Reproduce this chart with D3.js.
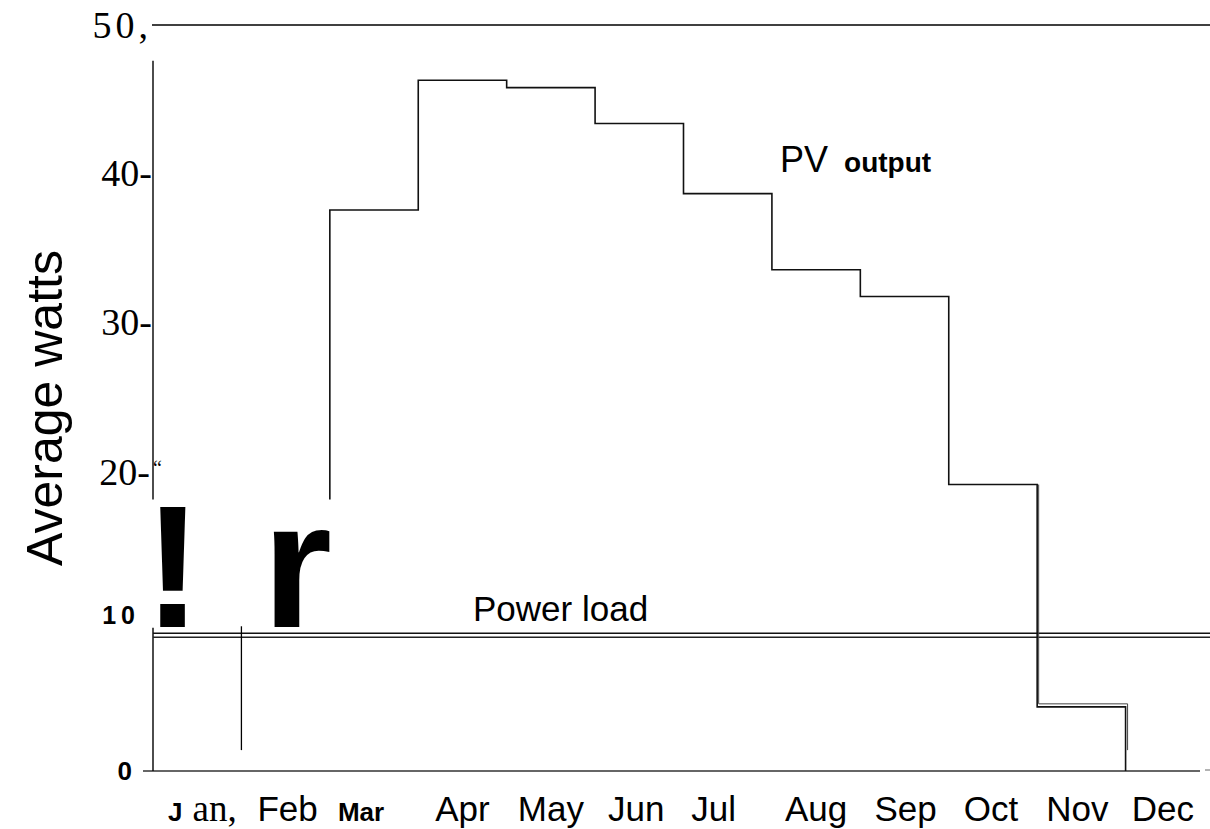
<!DOCTYPE html>
<html>
<head>
<meta charset="utf-8">
<script src="https://cdn.jsdelivr.net/npm/d3@7"></script>
<style>
  html, body { margin: 0; padding: 0; background: #fff; }
  svg { display: block; }
</style>
</head>
<body>
<svg id="chart" width="1210" height="829"></svg>
<script>
// ---- data ----
const months = ["Jan","Feb","Mar","Apr","May","Jun","Jul","Aug","Sep","Oct","Nov","Dec"];
const monthLabels = ["J an,", "Feb", "Mar", "Apr", "May", "Jun", "Jul", "Aug", "Sep", "Oct", "Nov", "Dec"];
// PV output (average watts) per month; Jan not readable, Feb only as start of the March rise
const pvOutput = [null, 18.2, 37.6, 46.3, 45.8, 43.4, 38.7, 33.6, 31.8, 19.2, 4.3, 0];
// Power load (average watts) per month
const powerLoad = [9.1, 9.1, 9.1, 9.1, 9.1, 9.1, 9.1, 9.1, 9.1, 9.1, 9.1, 9.1];
const yTickValues = [0, 10, 20, 30, 40, 50];
const yTickLabels = ["0", "1 0", "20-", "30-", "40-", "50,"];

// ---- layout ----
const svg = d3.select("#chart");
const x = d3.scaleLinear().domain([0, 12]).range([153, 1214]);
const y = d3.scaleLinear().domain([0, 50]).range([771, 25]);
const SANS = "'Liberation Sans', Arial, sans-serif";
const SERIF = "'Liberation Serif', 'Times New Roman', serif";

// frame: top line at 50, x axis at 0, y axis (broken)
svg.append("line").attr("x1", x(0) - 1).attr("x2", 1210).attr("y1", y(50)).attr("y2", y(50))
  .attr("stroke", "#000").attr("stroke-width", 1.6);
svg.append("line").attr("x1", 143).attr("x2", 1200).attr("y1", y(0)).attr("y2", y(0))
  .attr("stroke", "#333").attr("stroke-width", 1.4);
svg.append("line").attr("x1", 1205).attr("x2", 1210).attr("y1", y(0) - 1).attr("y2", y(0) - 1)
  .attr("stroke", "#666").attr("stroke-width", 1);
svg.append("line").attr("x1", x(0)).attr("x2", x(0)).attr("y1", y(47.6)).attr("y2", y(18.2))
  .attr("stroke", "#000").attr("stroke-width", 1.4);
svg.append("line").attr("x1", x(0)).attr("x2", x(0)).attr("y1", y(9.6)).attr("y2", y(0))
  .attr("stroke", "#000").attr("stroke-width", 1.4);

// y tick labels
const yStyles = {
  0:  {font: SANS, size: 26, weight: "bold", dx: -20, dy: 9, ls: 0},
  10: {font: SANS, size: 25, weight: "bold", dx: -18, dy: 2, ls: -1},
  20: {font: SERIF, size: 38, weight: "normal", dx: -2, dy: 12, ls: 0},
  30: {font: SERIF, size: 38, weight: "normal", dx: 0, dy: 12, ls: 0},
  40: {font: SERIF, size: 38, weight: "normal", dx: 0, dy: 12, ls: 0},
  50: {font: SERIF, size: 38, weight: "normal", dx: 0, dy: 13, ls: 4}
};
svg.append("g").selectAll("text").data(yTickValues).join("text")
  .attr("x", d => 152 + yStyles[d].dx)
  .attr("y", d => y(d) + yStyles[d].dy)
  .attr("text-anchor", "end")
  .attr("font-family", d => yStyles[d].font)
  .attr("font-size", d => yStyles[d].size)
  .attr("font-weight", d => yStyles[d].weight)
  .attr("letter-spacing", d => yStyles[d].ls)
  .text((d, i) => yTickLabels[i]);
// small opening quote after the 20 tick
svg.append("text").attr("x", 153).attr("y", y(20) + 2)
  .attr("font-family", SERIF).attr("font-size", 20).text("\u201C");

// y title
svg.append("text")
  .attr("transform", "translate(62,408) rotate(-90)")
  .attr("text-anchor", "middle")
  .attr("font-family", SANS).attr("font-size", 50)
  .text("Average watts");

// x labels
const xOffsets = [0, 2, -13, 0, 0, -3, -14, 0, 1, -2, -4, -7];
const xl = svg.append("g");
monthLabels.forEach((lab, i) => {
  if (i === 0) {
    const t = xl.append("text").attr("x", 168).attr("y", 821).attr("font-family", SANS);
    t.append("tspan").attr("font-weight", "bold").attr("font-size", 26).text("J");
    t.append("tspan").attr("font-family", SERIF).attr("font-size", 37).attr("dx", 10).text("an,");
    return;
  }
  const isMar = i === 2;
  xl.append("text")
    .attr("x", x(i + 0.5) + xOffsets[i])
    .attr("y", 821)
    .attr("text-anchor", "middle")
    .attr("font-family", SANS)
    .attr("font-size", isMar ? 26 : 35)
    .attr("font-weight", isMar ? "bold" : "normal")
    .text(lab);
});

// power load (double scanned line)
const loadLine = d3.line().x(d => d[0]).y(d => d[1]);
const loadPts = [];
powerLoad.forEach((v, i) => { loadPts.push([x(i), y(v)]); loadPts.push([x(i + 1) - (i === 11 ? 4 : 0), y(v)]); });
svg.append("path").attr("d", loadLine(loadPts.map(p => [p[0], p[1] - 2])))
  .attr("fill", "none").attr("stroke", "#111").attr("stroke-width", 1.4);
svg.append("path").attr("d", loadLine(loadPts.map(p => [p[0], p[1] + 2])))
  .attr("fill", "none").attr("stroke", "#222").attr("stroke-width", 1.4);

// Jan/Feb edge mark
svg.append("line").attr("x1", x(1)).attr("x2", x(1)).attr("y1", y(9.7)).attr("y2", y(1.4))
  .attr("stroke", "#000").attr("stroke-width", 1.3);

// PV output step line (from Feb value rising at Mar start)
const pvPts = [];
for (let i = 2; i < 12; i++) {
  if (i === 2) pvPts.push([x(i), y(pvOutput[1])]);
  pvPts.push([x(i), y(pvOutput[i])]);
  if (i < 11) pvPts.push([x(i + 1), y(pvOutput[i])]);
}
svg.append("path").attr("d", d3.line()(pvPts))
  .attr("fill", "none").attr("stroke", "#111").attr("stroke-width", 1.6);
// scan doubling near Oct-Nov-Dec
const dbl = [[x(10) + 1.5, y(pvOutput[9])], [x(10) + 1.5, y(pvOutput[10]) - 3], [x(11) + 2, y(pvOutput[10]) - 3], [x(11) + 2, y(1.4)]];
svg.append("path").attr("d", d3.line()(dbl))
  .attr("fill", "none").attr("stroke", "#444").attr("stroke-width", 1);

// labels
const pv = svg.append("text").attr("x", 780).attr("y", 172).attr("font-family", SANS);
pv.append("tspan").attr("font-size", 36).text("PV");
pv.append("tspan").attr("font-size", 28).attr("font-weight", "bold").attr("dx", 16).text("output");

svg.append("text").attr("x", 473).attr("y", 621)
  .attr("font-family", SANS).attr("font-size", 35).text("Power load");

// scan artefact glyphs
svg.append("text").attr("x", 173).attr("y", 627).attr("text-anchor", "middle")
  .attr("font-family", SANS).attr("font-weight", "bold").attr("font-size", 175).text("!");
svg.append("text").attr("x", 262).attr("y", 627)
  .attr("font-family", SANS).attr("font-weight", "bold").attr("font-size", 180).text("r");
</script>
</body>
</html>
